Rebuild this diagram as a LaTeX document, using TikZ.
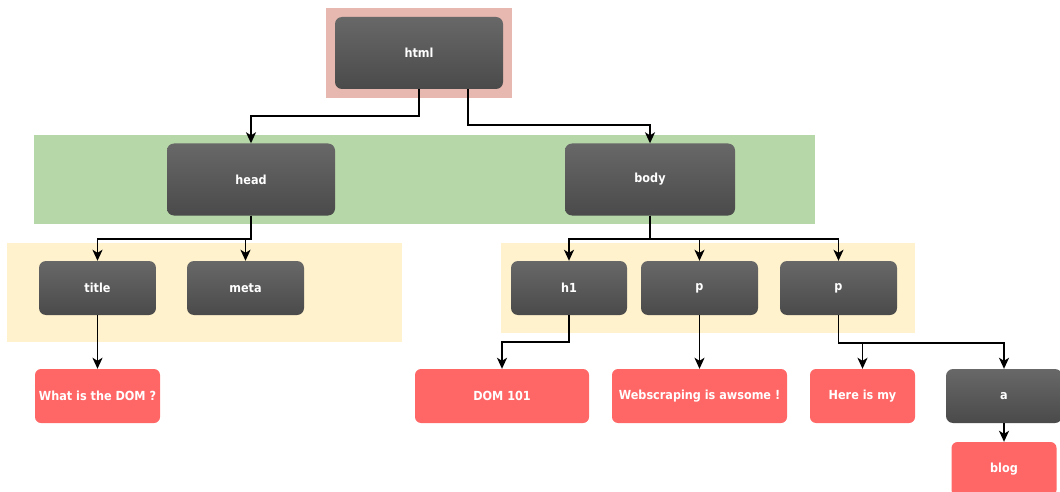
\documentclass[tikz,border=0pt]{standalone}
\usepackage{fontspec}
\newfontfamily\domfont{DejaVu Sans Condensed}
\usetikzlibrary{arrows.meta}
\definecolor{htmlband}{HTML}{E6B8AF}
\definecolor{headband}{HTML}{B6D7A8}
\definecolor{tagband}{HTML}{FFF2CC}
\definecolor{textred}{HTML}{FF6666}
\definecolor{tagtop}{HTML}{686868}
\definecolor{tagbot}{HTML}{4A4A4A}
\tikzset{
  tagbox/.style={rounded corners=7pt,top color=tagtop,bottom color=tagbot,text=white,inner sep=0pt,
    font={\domfont\bfseries\fontsize{12.5}{14}\selectfont}},
  textbox/.style={rounded corners=6pt,fill=textred,text=white,inner sep=0pt,minimum height=54pt,
    font={\domfont\bfseries\fontsize{12.5}{14}\selectfont}},
  link/.style={-{Stealth[length=11pt,width=10pt,inset=3pt]},line width=1.7pt}
}
\begin{document}
\begin{tikzpicture}[x=1pt,y=-1pt]
\useasboundingbox(0,0)rectangle(1060,492);
\clip(0,0)rectangle(1060,492);
\pgfmathsetmacro{\kbig}{72}
\pgfmathsetmacro{\ksmall}{54}
% bands
\fill[htmlband](326,8)rectangle(512,98);
\fill[headband](34,135)rectangle(815,224);
\fill[tagband](7,243)rectangle(402,342);
\fill[tagband](501,243)rectangle(915,333);
% tag nodes
\foreach \nn/\nx/\ny/\nw/\ntxt in {html/419/53/168/html,head/251/179.5/168/head,body/650/179.5/170/body}{
  \node[tagbox,minimum width=\nw pt,minimum height=\kbig pt](\nn)at(\nx,\ny){\ntxt};}
\foreach \nn/\nx/\nw/\ntxt in {title/97.5/117/title,meta/245.5/117/meta,hone/569/116/h1,pone/699.5/117/p,ptwo/838.5/117/p}{
  \node[tagbox,minimum width=\nw pt,minimum height=\ksmall pt](\nn)at(\nx,288){\ntxt};}
\node[tagbox,minimum width=116pt,minimum height=\ksmall pt](atag)at(1004,396){a};
% text nodes
\foreach \nn/\nx/\nw/\ntxt in {whatdom/97.5/125/{What is the DOM ?},domone/502/174/{DOM 101},webscr/699.5/175/{Webscraping is awsome !},hereis/862.5/105/{Here is my}}{
  \node[textbox,minimum width=\nw pt](\nn)at(\nx,396){\ntxt};}
\node[textbox,minimum width=105pt](blog)at(1004,469){blog};
% links
\draw[link](html.south)--++(0,27)-|(head.north);
\draw[link]([xshift=49pt]html.south)--++(0,36)-|(body.north);
\foreach \kid in {title,meta}{\draw[link](head.south)--++(0,23)-|(\kid.north);}
\foreach \kid in {hone,pone,ptwo}{\draw[link](body.south)--++(0,23)-|(\kid.north);}
\draw[link](title.south)--(whatdom.north);
\draw[link](hone.south)--++(0,27)-|(domone.north);
\draw[link](pone.south)--(webscr.north);
\foreach \kid in {hereis,atag}{\draw[link](ptwo.south)--++(0,28)-|(\kid.north);}
\draw[link](atag.south)--(blog.north);
\end{tikzpicture}
\end{document}
